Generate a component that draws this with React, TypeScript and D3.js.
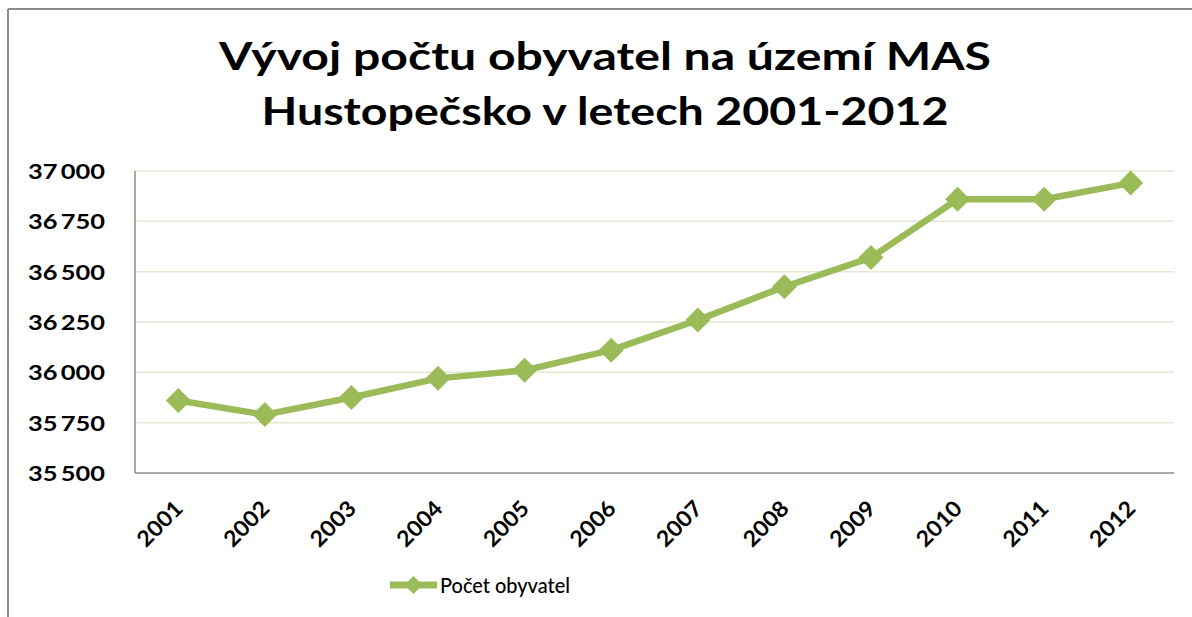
import React, { useEffect, useRef } from 'react';
import * as d3 from 'd3';

const years = ['2001', '2002', '2003', '2004', '2005', '2006', '2007', '2008', '2009', '2010', '2011', '2012'];
const population = [35860, 35790, 35875, 35970, 36010, 36110, 36260, 36425, 36570, 36860, 36860, 36940];
const yTicks = [35500, 35750, 36000, 36250, 36500, 36750, 37000];
const titleLines = ['Vývoj počtu obyvatel na území MAS', 'Hustopečsko v letech 2001-2012'];
const seriesName = 'Počet obyvatel';

const GREEN = '#9bbb59';
const FONT = 'Lato, "Open Sans", sans-serif';

const App = () => {
  const ref = useRef<SVGSVGElement>(null);

  useEffect(() => {
    const svg = d3.select(ref.current);
    svg.selectAll('*').remove();

    const left = 135;
    const right = 1174;
    const top = 171;
    const bottom = 473;

    const x = d3.scaleBand().domain(years).range([left, right]);
    const y = d3.scaleLinear().domain([35500, 37000]).range([bottom, top]);

    // outer chart border (partly cropped)
    svg.append('line').attr('x1', 8).attr('x2', 1192).attr('y1', 9).attr('y2', 9)
      .attr('stroke', '#8c8c8c').attr('stroke-width', 2);
    svg.append('line').attr('x1', 8).attr('x2', 8).attr('y1', 9).attr('y2', 617)
      .attr('stroke', '#8c8c8c').attr('stroke-width', 2);

    // title
    const titleWidths = [772, 687];
    svg.append('g').selectAll('text').data(titleLines).enter().append('text')
      .attr('x', 605)
      .attr('y', (d, i) => 70 + i * 55)
      .attr('text-anchor', 'middle')
      .attr('textLength', (d, i) => titleWidths[i])
      .attr('lengthAdjust', 'spacingAndGlyphs')
      .style('font-family', FONT)
      .style('font-weight', 700)
      .style('font-size', '39px')
      .style('fill', '#000')
      .text((d) => d);

    // gridlines
    svg.append('g').selectAll('line').data(yTicks.slice(1)).enter().append('line')
      .attr('x1', left).attr('x2', right)
      .attr('y1', (d) => y(d)).attr('y2', (d) => y(d))
      .attr('stroke', '#e3e8d0').attr('stroke-width', 1.5);

    // axes
    const yAxis = svg.append('g')
      .call(d3.axisLeft(y).tickValues(yTicks).tickSize(0).tickPadding(30)
        .tickFormat((d) => d3.format(',')(d as number).replace(',', '\u2009')));
    yAxis.select('.domain').remove();
    yAxis.attr('transform', `translate(${left},0)`);
    yAxis.selectAll('text')
      .style('font-family', FONT).style('font-weight', 700).style('font-size', '21px')
      .attr('fill', '#000').attr('dy', '0.35em')
      .attr('textLength', 77).attr('lengthAdjust', 'spacingAndGlyphs');

    svg.append('line').attr('x1', left).attr('x2', left).attr('y1', top).attr('y2', bottom)
      .attr('stroke', '#8c8c8c').attr('stroke-width', 1.5);
    svg.append('line').attr('x1', left).attr('x2', right).attr('y1', bottom).attr('y2', bottom)
      .attr('stroke', '#8c8c8c').attr('stroke-width', 1.5);

    // x labels
    svg.append('g').selectAll('text').data(years).enter().append('text')
      .attr('transform', (d) => `translate(${(x(d) as number) + x.bandwidth() / 2 + 6},510) rotate(-45)`)
      .attr('text-anchor', 'end')
      .attr('textLength', 54).attr('lengthAdjust', 'spacingAndGlyphs')
      .style('font-family', FONT).style('font-weight', 700).style('font-size', '22px')
      .style('fill', '#000')
      .text((d) => d);

    // series line
    const line = d3.line<number>()
      .x((d, i) => (x(years[i]) as number) + x.bandwidth() / 2)
      .y((d) => y(d));
    svg.append('path').datum(population)
      .attr('d', line)
      .attr('fill', 'none').attr('stroke', GREEN).attr('stroke-width', 6.5)
      .attr('stroke-linejoin', 'round');

    const diamond = (r: number) => `M0,${-r}L${r},0L0,${r}L${-r},0Z`;
    svg.append('g').selectAll('path').data(population).enter().append('path')
      .attr('transform', (d, i) => `translate(${(x(years[i]) as number) + x.bandwidth() / 2},${y(d)})`)
      .attr('d', diamond(12.5))
      .attr('fill', GREEN);

    // legend
    const legend = svg.append('g').attr('transform', 'translate(390,585)');
    legend.append('line').attr('x1', 0).attr('x2', 47).attr('y1', 0).attr('y2', 0)
      .attr('stroke', GREEN).attr('stroke-width', 7);
    legend.append('path').attr('transform', 'translate(23.5,0)').attr('d', diamond(9)).attr('fill', GREEN);
    legend.append('text').attr('x', 50).attr('y', 0).attr('dy', '0.36em')
      .attr('textLength', 130).attr('lengthAdjust', 'spacingAndGlyphs')
      .style('font-family', FONT).style('font-weight', 500).style('font-size', '22px')
      .style('fill', '#000')
      .text(seriesName);
  }, []);

  return (
    <svg ref={ref} width={1192} height={617} style={{ position: 'absolute', left: 0, top: 0, background: '#fff' }}></svg>
  );
};

export default App;
